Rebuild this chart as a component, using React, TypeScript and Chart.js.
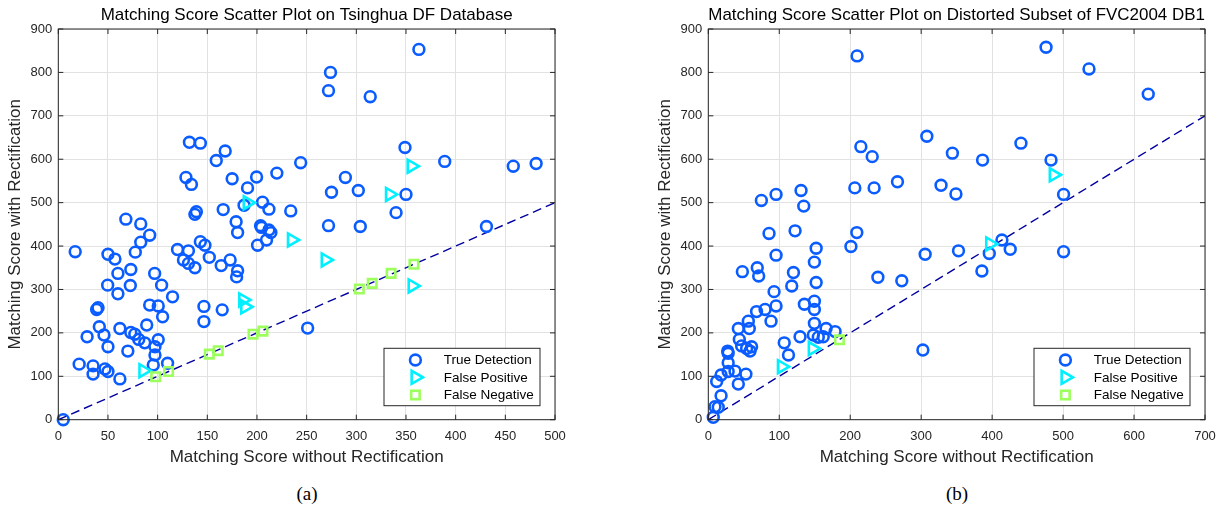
import React, { useEffect, useRef } from 'react';
import { Chart, registerables } from 'chart.js';

Chart.register(...registerables);

// ---------- text ----------
const LEFT_TITLE = 'Matching Score Scatter Plot on Tsinghua DF Database';
const RIGHT_TITLE = 'Matching Score Scatter Plot on Distorted Subset of FVC2004 DB1';
const X_LABEL = 'Matching Score without Rectification';
const Y_LABEL = 'Matching Score with Rectification';
const LEGEND_LABELS = ['True Detection', 'False Positive', 'False Negative'];
const LEFT_CAPTION = '(a)';
const RIGHT_CAPTION = '(b)';

// ---------- ticks ----------
const Y_TICKS = [0, 100, 200, 300, 400, 500, 600, 700, 800, 900];
const LEFT_X_TICKS = [0, 50, 100, 150, 200, 250, 300, 350, 400, 450, 500];
const RIGHT_X_TICKS = [0, 100, 200, 300, 400, 500, 600, 700];

// ---------- data: (a) Tsinghua DF ----------
const leftTrueDetection: [number, number][] = [
  [132, 639], [143, 637], [168, 619], [159, 597], [128.5, 558], [134, 542], [175, 555], [199.6, 559],
  [190.5, 534], [220, 568], [244, 592], [187, 494], [205.6, 501], [212, 485], [234, 481], [139, 479],
  [137.5, 473], [166, 484], [68, 462], [83, 451], [179, 456], [203.6, 447], [212, 437],
  [363, 853], [274, 800], [272, 758], [314, 744], [349, 627], [389, 595], [458, 584], [481, 590],
  [289, 558], [275, 524], [302, 528], [350, 519], [340, 477], [272, 447], [304, 445], [431, 445],
  [92, 425], [83, 409], [77.5, 386], [17, 387], [50, 381], [57, 370], [73, 346], [60, 337],
  [49.7, 310], [72.5, 309], [60, 290], [40, 258], [38.6, 254], [41.3, 214], [46, 195], [29, 191],
  [50, 168], [62, 210], [73, 201], [77, 197], [81, 185], [87, 177], [70, 158], [89, 218],
  [92, 264], [100.6, 262], [97, 337], [104, 310], [115, 283], [105, 237], [100.6, 184], [97.3, 168],
  [97.3, 149], [95.6, 126], [110, 130], [21, 128], [35, 124], [35, 105], [47, 117], [50, 111],
  [62, 94], [5, 0], [120, 392], [131, 389], [126, 368], [131, 360], [137.5, 350], [143, 410],
  [147.6, 402], [152, 374], [164, 355], [173, 368], [180.5, 343], [179.5, 329], [200.6, 402], [209.6, 414],
  [214, 431], [204.6, 443], [180.5, 431], [146.6, 261], [146.6, 226], [165, 253], [251, 211],
];
const leftFalsePositive: [number, number][] = [
  [190.5, 500], [355.5, 584], [333.7, 519], [85.5, 113], [186, 276], [188, 260], [235, 414], [269, 368], [356.5, 308],
];
const leftFalseNegative: [number, number][] = [
  [98, 99], [111, 111], [152, 151], [161, 159], [196, 197], [206, 204], [303, 301], [316, 314], [335, 337], [358, 358],
];

// ---------- data: (b) FVC2004 DB1 distorted subset ----------
const rightTrueDetection: [number, number][] = [
  [209.7, 838], [308, 653], [344, 614], [215, 629], [231, 606], [266.6, 548], [328, 540], [349, 520],
  [206.5, 534], [233.7, 534], [74.8, 505], [95.5, 519], [130.7, 528], [134.5, 492],
  [476, 858], [536.5, 808], [620, 750], [440.6, 637], [386.5, 598], [483, 598], [500.7, 519],
  [85.6, 429], [122.3, 435], [209.3, 431], [201, 399], [152, 395], [95.5, 379], [305.6, 381], [352.6, 389],
  [149.5, 363], [48, 341], [69, 350], [71, 331], [120, 339], [117.6, 308], [152, 316], [239, 328],
  [272.7, 320], [92.7, 295], [135.4, 266], [149.5, 273], [149.5, 254], [95.5, 262], [68, 249], [80, 254],
  [88.4, 227], [56.4, 227], [57.8, 210], [42.3, 210], [149.5, 222], [166, 210], [178.7, 203], [129.3, 191],
  [148, 195], [155, 190], [162, 191], [107, 177], [113, 149], [43.7, 185], [47, 170], [54, 164],
  [58.8, 158], [61, 168], [27.3, 158], [28, 153], [28, 131], [18, 103], [28, 111], [37.6, 112],
  [53, 105], [42.3, 82], [11.8, 88], [18, 55], [9.4, 30], [14, 28.5], [7, 5.5], [302.4, 160.5],
  [413.8, 414], [425.5, 392.5], [396, 383], [385.6, 342.5], [500.7, 387],
];
const rightFalsePositive: [number, number][] = [
  [486.6, 564], [147, 164], [103.5, 122], [397, 405],
];
const rightFalseNegative: [number, number][] = [
  [184.8, 184],
];

// ---------- style ----------
const FONT = '"Liberation Sans", Arial, Helvetica, sans-serif';
const TEXT = '#262626';
const GRID = '#e2e2e2';
const FRAME = '#262626';
const C_TRUE = '#0a5cff';
const C_FP = '#00f0ff';
const C_FN = '#9cff5c';
const C_LINE = '#0000a0';

const toPts = (arr: [number, number][]) => arr.map(([x, y]) => ({ x, y }));

function drawMarker(ctx: CanvasRenderingContext2D, kind: number, x: number, y: number) {
  ctx.save();
  ctx.lineWidth = 2.6;
  if (kind === 0) {
    ctx.strokeStyle = C_TRUE;
    ctx.beginPath();
    ctx.arc(x, y, 5.4, 0, Math.PI * 2);
    ctx.stroke();
  } else if (kind === 1) {
    ctx.strokeStyle = C_FP;
    const r = 7.5;
    ctx.beginPath();
    let rad = Math.PI / 2;
    ctx.moveTo(x + Math.sin(rad) * r, y - Math.cos(rad) * r);
    rad += (2 * Math.PI) / 3;
    ctx.lineTo(x + Math.sin(rad) * r, y - Math.cos(rad) * r);
    rad += (2 * Math.PI) / 3;
    ctx.lineTo(x + Math.sin(rad) * r, y - Math.cos(rad) * r);
    ctx.closePath();
    ctx.stroke();
  } else {
    ctx.strokeStyle = C_FN;
    const s = 6 * Math.SQRT1_2;
    ctx.strokeRect(x - s, y - s, 2 * s, 2 * s);
  }
  ctx.restore();
}

function makeConfig(
  title: string,
  xMax: number,
  xTicks: number[],
  td: [number, number][],
  fp: [number, number][],
  fn: [number, number][],
): any {
  const framePlugin = {
    id: 'frameAndLegend',
    afterDraw(chart: any) {
      const { ctx, chartArea } = chart;
      const { left, right, top, bottom } = chartArea;
      const xs = chart.scales.x;
      const ys = chart.scales.y;
      ctx.save();
      ctx.strokeStyle = FRAME;
      ctx.lineWidth = 1;
      ctx.strokeRect(left, top, right - left, bottom - top);
      const tl = 5;
      ctx.beginPath();
      xTicks.forEach((v) => {
        const px = xs.getPixelForValue(v);
        ctx.moveTo(px, bottom);
        ctx.lineTo(px, bottom - tl);
        ctx.moveTo(px, top);
        ctx.lineTo(px, top + tl);
      });
      Y_TICKS.forEach((v) => {
        const py = ys.getPixelForValue(v);
        ctx.moveTo(left, py);
        ctx.lineTo(left + tl, py);
        ctx.moveTo(right, py);
        ctx.lineTo(right - tl, py);
      });
      ctx.stroke();

      // legend box
      const bw = 156;
      const bh = 57.4;
      const bx = right - 15 - bw;
      const by = bottom - 14 - bh;
      ctx.fillStyle = '#ffffff';
      ctx.fillRect(bx, by, bw, bh);
      ctx.strokeStyle = FRAME;
      ctx.lineWidth = 1;
      ctx.strokeRect(bx, by, bw, bh);
      const rows = [11.7, 29, 46.7];
      ctx.font = `13.5px ${FONT}`;
      ctx.fillStyle = '#000000';
      ctx.textBaseline = 'middle';
      ctx.textAlign = 'left';
      LEGEND_LABELS.forEach((lab, i) => {
        drawMarker(ctx, i, bx + 31.4, by + rows[i]);
        ctx.fillText(lab, bx + 59.7, by + rows[i] + 0.5);
      });
      ctx.restore();
    },
  };

  return {
    type: 'scatter',
    data: {
      datasets: [
        {
          label: 'y = x',
          type: 'line',
          data: [{ x: 0, y: 0 }, { x: xMax, y: xMax }],
          borderColor: C_LINE,
          borderWidth: 1.4,
          borderDash: [9, 5],
          pointRadius: 0,
          fill: false,
          order: 4,
        },
        {
          label: LEGEND_LABELS[0],
          data: toPts(td),
          pointStyle: 'circle',
          pointRadius: 5.4,
          pointBorderWidth: 2.6,
          borderColor: C_TRUE,
          backgroundColor: 'rgba(0,0,0,0)',
          clip: false,
          order: 3,
        },
        {
          label: LEGEND_LABELS[1],
          data: toPts(fp),
          pointStyle: 'triangle',
          pointRotation: 90,
          pointRadius: 7.5,
          pointBorderWidth: 2.6,
          borderColor: C_FP,
          backgroundColor: 'rgba(0,0,0,0)',
          clip: false,
          order: 2,
        },
        {
          label: LEGEND_LABELS[2],
          data: toPts(fn),
          pointStyle: 'rect',
          pointRadius: 6,
          pointBorderWidth: 2.6,
          borderColor: C_FN,
          backgroundColor: 'rgba(0,0,0,0)',
          clip: false,
          order: 1,
        },
      ],
    },
    options: {
      responsive: false,
      animation: false,
      devicePixelRatio: 1,
      layout: { padding: { left: 0, right: 20, top: 0, bottom: 0 } },
      plugins: {
        legend: { display: false },
        tooltip: { enabled: false },
        title: {
          display: true,
          text: title,
          fullSize: false,
          color: '#000000',
          font: { family: FONT, size: 17, weight: 'normal' },
          padding: { top: 5, bottom: 3.6 },
        },
      },
      scales: {
        x: {
          type: 'linear',
          min: 0,
          max: xMax,
          afterBuildTicks: (s: any) => {
            s.ticks = xTicks.map((v) => ({ value: v }));
          },
          afterFit: (s: any) => {
            s.height = 55.3;
          },
          grid: { color: GRID, lineWidth: 1, drawTicks: false },
          border: { display: false },
          ticks: {
            autoSkip: false,
            maxRotation: 0,
            padding: 9,
            color: TEXT,
            font: { family: FONT, size: 13 },
          },
          title: {
            display: true,
            text: X_LABEL,
            color: TEXT,
            font: { family: FONT, size: 17 },
            padding: { top: 0, bottom: 7 },
          },
        },
        y: {
          type: 'linear',
          min: 0,
          max: 900,
          afterBuildTicks: (s: any) => {
            s.ticks = Y_TICKS.map((v) => ({ value: v }));
          },
          afterFit: (s: any) => {
            s.width = 58.3;
          },
          grid: { color: GRID, lineWidth: 1, drawTicks: false },
          border: { display: false },
          ticks: {
            autoSkip: false,
            padding: 6,
            color: TEXT,
            font: { family: FONT, size: 13 },
          },
          title: {
            display: true,
            text: Y_LABEL,
            color: TEXT,
            font: { family: FONT, size: 17 },
            padding: { top: 5, bottom: 0 },
          },
        },
      },
    },
    plugins: [framePlugin],
  };
}

function ScatterPanel(props: {
  left: number;
  title: string;
  xMax: number;
  xTicks: number[];
  td: [number, number][];
  fp: [number, number][];
  fn: [number, number][];
}) {
  const ref = useRef<HTMLCanvasElement | null>(null);
  useEffect(() => {
    if (!ref.current) return;
    const chart = new Chart(
      ref.current,
      makeConfig(props.title, props.xMax, props.xTicks, props.td, props.fp, props.fn),
    );
    return () => chart.destroy();
  }, []);
  return (
    <canvas
      ref={ref}
      width={575}
      height={475}
      style={{ position: 'absolute', left: props.left, top: 0, width: 575, height: 475 }}
    />
  );
}

export default function App() {
  const captionStyle: React.CSSProperties = {
    position: 'absolute',
    top: 484,
    width: 200,
    textAlign: 'center',
    fontFamily: '"Liberation Serif", "Times New Roman", serif',
    fontSize: 19,
    lineHeight: '20px',
    color: '#000',
  };
  return (
    <div
      style={{
        position: 'absolute',
        left: 0,
        top: 0,
        width: 1225,
        height: 513,
        background: '#ffffff',
        overflow: 'hidden',
      }}
    >
      <ScatterPanel
        left={0}
        title={LEFT_TITLE}
        xMax={500}
        xTicks={LEFT_X_TICKS}
        td={leftTrueDetection}
        fp={leftFalsePositive}
        fn={leftFalseNegative}
      />
      <ScatterPanel
        left={650}
        title={RIGHT_TITLE}
        xMax={700}
        xTicks={RIGHT_X_TICKS}
        td={rightTrueDetection}
        fp={rightFalsePositive}
        fn={rightFalseNegative}
      />
      <div style={{ ...captionStyle, left: 207 }}>{LEFT_CAPTION}</div>
      <div style={{ ...captionStyle, left: 857 }}>{RIGHT_CAPTION}</div>
    </div>
  );
}
